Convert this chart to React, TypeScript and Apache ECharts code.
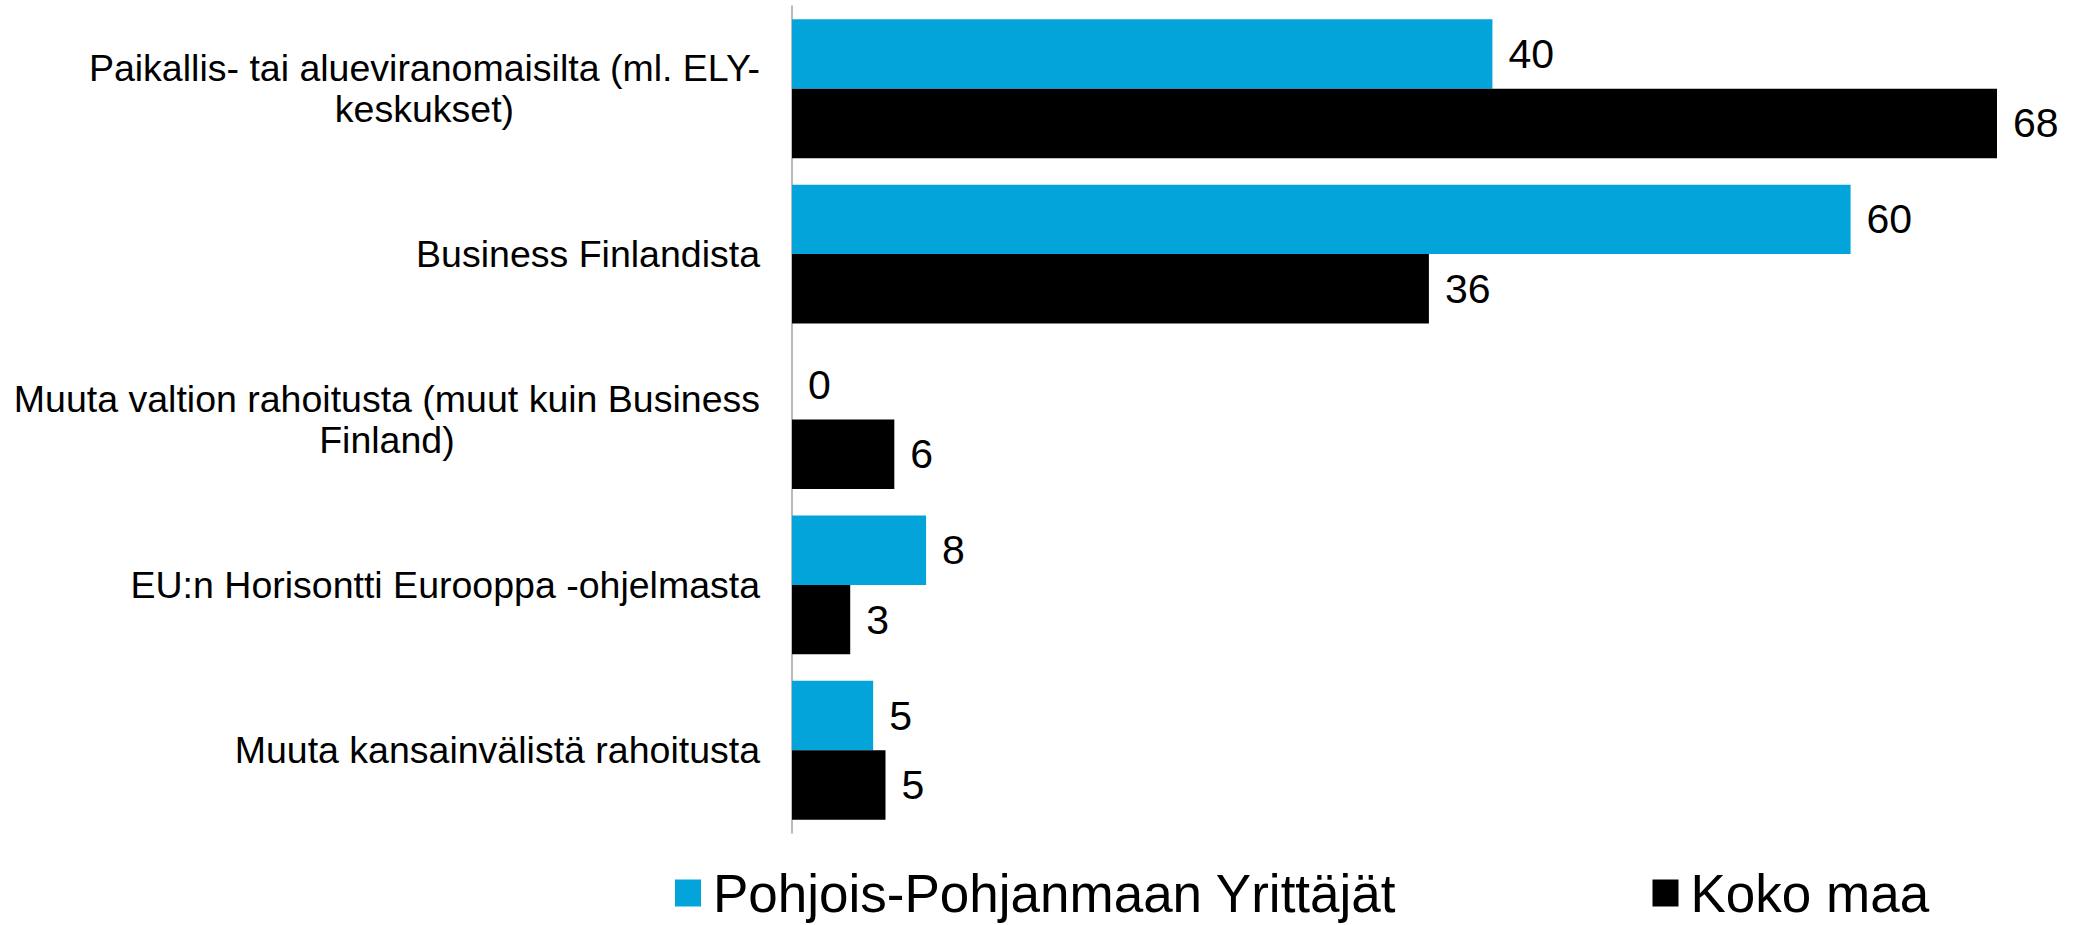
import React, { useEffect, useRef } from "react";
import * as echarts from "echarts";

const categories: string[] = [
  "Paikallis- tai alueviranomaisilta (ml. ELY-\nkeskukset)",
  "Business Finlandista",
  "Muuta valtion rahoitusta (muut kuin Business\nFinland)",
  "EU:n Horisontti Eurooppa -ohjelmasta",
  "Muuta kansainvälistä rahoitusta",
];

const seriesNames: string[] = ["Pohjois-Pohjanmaan Yrittäjät", "Koko maa"];

const pohjoisPohjanmaa: number[] = [39.7, 60.0, 0, 7.6, 4.6];
const kokoMaa: number[] = [68.3, 36.1, 5.8, 3.3, 5.3];

const FONT = "'Liberation Sans', Arial, Helvetica, sans-serif";

export default function App() {
  const ref = useRef<HTMLDivElement>(null);

  useEffect(() => {
    if (!ref.current) return;
    const chart = echarts.init(ref.current, undefined, { renderer: "svg" });

    const labelCfg = {
      show: true,
      position: "right" as const,
      distance: 16,
      color: "#000",
      fontSize: 41,
      fontFamily: FONT,
      formatter: (p: any) => String(Math.round(p.value)),
    };

    chart.setOption({
      animation: false,
      backgroundColor: "#ffffff",
      textStyle: { fontFamily: FONT },
      grid: {
        left: 792,
        right: 46,
        top: 6,
        bottom: 92,
        containLabel: false,
        outerBoundsMode: "none",
      },
      legend: {
        data: seriesNames,
        left: 670,
        top: 860,
        icon: "rect",
        itemWidth: 26,
        itemHeight: 27,
        itemGap: 256,
        textStyle: {
          fontSize: 53,
          lineHeight: 56,
          color: "#000",
          fontFamily: FONT,
          padding: [0, 0, 0, 7],
        },
      },
      xAxis: {
        type: "value",
        min: 0,
        max: 70,
        show: false,
      },
      yAxis: {
        type: "category",
        data: categories,
        inverse: true,
        axisLine: { show: true, lineStyle: { color: "#a6a6a6", width: 1.5 } },
        axisTick: { show: false },
        splitLine: { show: false },
        axisLabel: {
          margin: 32,
          color: "#000",
          formatter: (v: string) =>
            v
              .split("\n")
              .map((l) => `{c|${l}}`)
              .join("\n"),
          rich: {
            c: {
              fontSize: 37.5,
              lineHeight: 41,
              align: "center",
              color: "#000",
              fontFamily: FONT,
            },
          },
        },
      },
      series: [
        {
          name: seriesNames[0],
          type: "bar",
          data: pohjoisPohjanmaa,
          barGap: "0%",
          barCategoryGap: "16%",
          itemStyle: { color: "#02a4d9" },
          label: labelCfg,
        },
        {
          name: seriesNames[1],
          type: "bar",
          data: kokoMaa,
          barGap: "0%",
          barCategoryGap: "16%",
          itemStyle: { color: "#000000" },
          label: labelCfg,
        },
      ],
    });

    return () => chart.dispose();
  }, []);

  return (
    <div
      ref={ref}
      style={{ position: "fixed", left: 0, top: 0, width: 2073, height: 925 }}
    />
  );
}
